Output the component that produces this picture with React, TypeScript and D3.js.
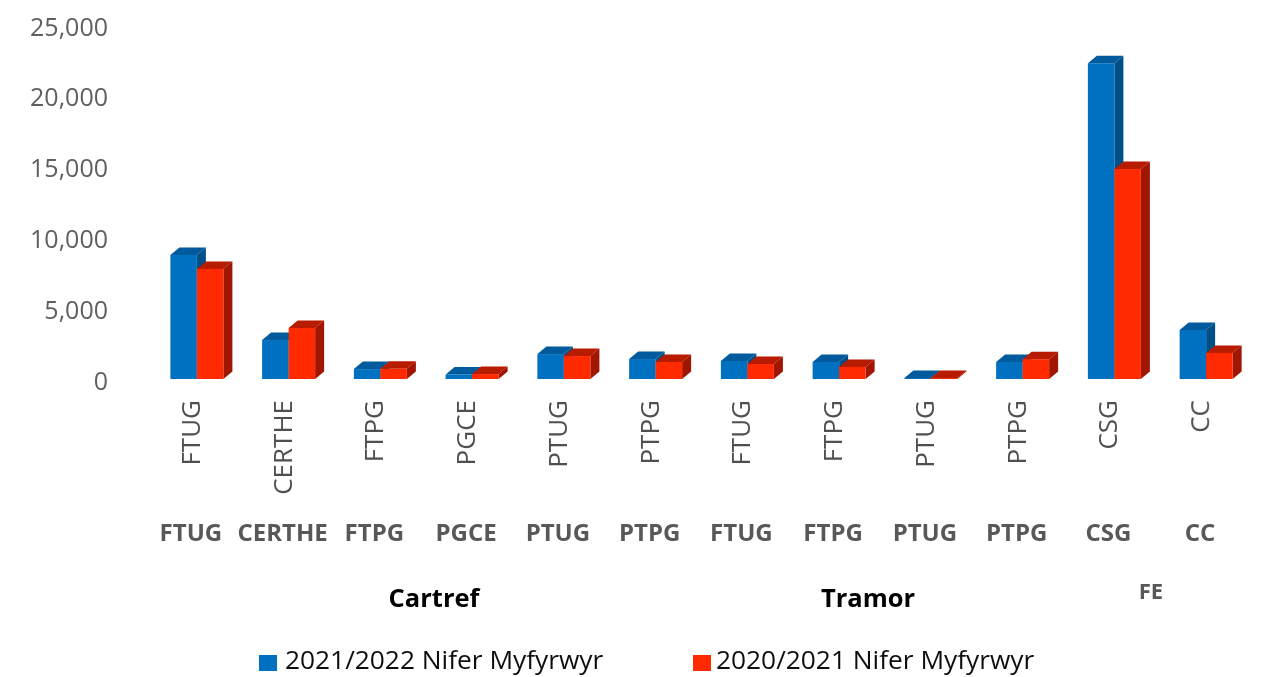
import React from "react";
import * as d3 from "d3";

const categories = ["FTUG", "CERTHE", "FTPG", "PGCE", "PTUG", "PTPG", "FTUG", "FTPG", "PTUG", "PTPG", "CSG", "CC"];
const series2122 = [8760, 2750, 700, 320, 1760, 1410, 1270, 1200, 70, 1200, 22300, 3460];
const series2021 = [7770, 3600, 720, 350, 1620, 1200, 1060, 850, 70, 1400, 14830, 1840];
const yTicks = [0, 5000, 10000, 15000, 20000, 25000];
const groups = [
  { label: "Cartref", x: 434 },
  { label: "Tramor", x: 868 },
];
const seriesNames = ["2021/2022 Nifer Myfyrwyr", "2020/2021 Nifer Myfyrwyr"];

const W = 1269;
const H = 677;
const FONT = "'Open Sans', sans-serif";
const x0 = d3.scaleBand<number>().domain(d3.range(12)).range([151, 1252]).paddingInner(0).paddingOuter(0);
const y = d3.scaleLinear().domain([0, 25000]).range([379, 25]);
const barW = 26.5;
const dx = 9;
const dy = 7.5;
const fmt = d3.format(",");

const palette = [
  { front: "#0070c0", top: "#005a9c", side: "#004f88" },
  { front: "#ff2a00", top: "#b81a00", side: "#a01200" },
];

function Bar3D({ x, v, c }: { x: number; v: number; c: (typeof palette)[number] }) {
  const t = y(v);
  const b = y(0);
  const r = x + barW;
  return (
    <g>
      <path d={`M${r},${b}L${r + dx},${b - dy}L${r + dx},${t - dy}L${r},${t}Z`} fill={c.side} />
      <path d={`M${x},${t}L${x + dx},${t - dy}L${r + dx},${t - dy}L${r},${t}Z`} fill={c.top} />
      <rect x={x} y={t} width={barW} height={b - t} fill={c.front} />
    </g>
  );
}

export default function App() {
  return (
    <svg
      width={W}
      height={H}
      viewBox={`0 0 ${W} ${H}`}
      style={{ position: "absolute", left: 0, top: 0, background: "#fff" }}
      fontFamily={FONT}
    >
      <defs>
        <filter id="soft" x="-5%" y="-5%" width="110%" height="110%">
          <feGaussianBlur stdDeviation="0.7" />
        </filter>
      </defs>
      <g filter="url(#soft)">
        {yTicks.map((t) => (
          <text key={t} x={108} y={y(t) + 4} textAnchor="end" dominantBaseline="middle" fontSize={25} fill="#5f5f5f">
            {fmt(t)}
          </text>
        ))}
        {categories.map((_, i) => {
          const cx = x0(i)! + x0.bandwidth() / 2;
          return (
            <g key={i}>
              <Bar3D x={cx - barW} v={series2122[i]} c={palette[0]} />
              <Bar3D x={cx} v={series2021[i]} c={palette[1]} />
            </g>
          );
        })}
        {categories.map((c, i) => {
          const cx = x0(i)! + x0.bandwidth() / 2 - 5;
          return (
            <g key={i}>
              <text
                transform={`translate(${cx + 1},400) rotate(-90)`}
                textAnchor="end"
                dominantBaseline="middle"
                fontSize={26}
                fill="#505050"
              >
                {c}
              </text>
              <text x={cx - 1} y={535} textAnchor="middle" dominantBaseline="middle" fontSize={24} fontWeight={700} fill="#595959">
                {c}
              </text>
            </g>
          );
        })}
        {groups.map((g) => (
          <text key={g.label} x={g.x} y={600} textAnchor="middle" dominantBaseline="middle" fontSize={25.5} fontWeight={700} fill="#000">
            {g.label}
          </text>
        ))}
        <text x={1151} y={593} textAnchor="middle" dominantBaseline="middle" fontSize={22} fontWeight={700} fill="#595959">
          FE
        </text>
        <rect x={259} y={655} width={18} height={16} fill={palette[0].front} />
        <text x={285} y={662} dominantBaseline="middle" fontSize={26.3} fill="#111">
          {seriesNames[0]}
        </text>
        <rect x={693} y={655} width={18} height={16} fill={palette[1].front} />
        <text x={716} y={662} dominantBaseline="middle" fontSize={26.3} fill="#111">
          {seriesNames[1]}
        </text>
      </g>
    </svg>
  );
}
